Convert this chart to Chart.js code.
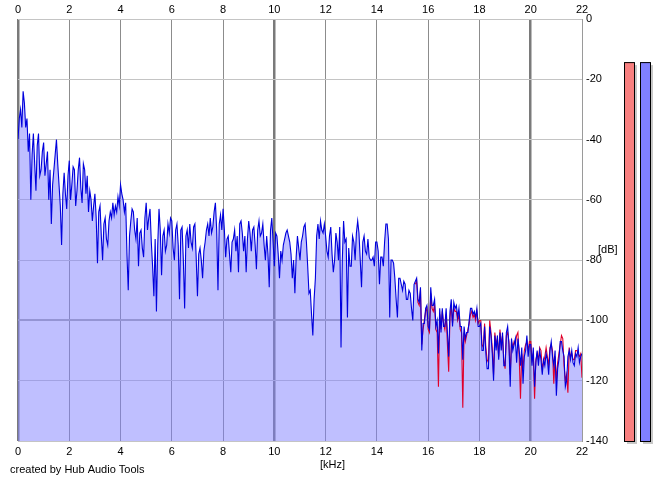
<!DOCTYPE html>
<html>
<head>
<meta charset="utf-8">
<script src="https://cdn.jsdelivr.net/npm/chart.js@4"></script>
<style>
  html, body { margin: 0; padding: 0; background: #fff; }
  #wrap { width: 664px; height: 482px; position: relative; }
</style>
</head>
<body>
<div id="wrap"><canvas id="spectrum"></canvas></div>
<script>
// frequency grid of the series (kHz)
const blueStartKHz = 0;
const redStartKHz = 15.5;
const stepKHz = 0.05;

// spectrum levels in dB, one value every 0.05 kHz (one row per kHz)
const blueLevels = [
  -40, -33, -30, -36, -24, -28, -36, -33, -44, -38, -60, -45, -38, -48, -57, -42, -38, -52, -50, -44,
  -41, -52, -48, -44, -60, -50, -68, -55, -50, -45, -40, -48, -55, -62, -75, -58, -51, -58, -63, -52,
  -47, -60, -55, -49, -50, -62, -57, -50, -46, -56, -61, -48, -50, -58, -52, -64, -57, -60, -67, -62,
  -58, -66, -81, -64, -62, -72, -80, -68, -66, -73, -75, -67, -64, -66, -61, -65, -62, -64, -59, -62,
  -55, -58, -60, -64, -61, -78, -90, -72, -67, -63, -64, -70, -73, -66, -82, -71, -70, -76, -79, -66,
  -61, -70, -66, -63, -74, -82, -92, -73, -97, -75, -63, -70, -85, -72, -70, -77, -75, -68, -71, -66,
  -67, -76, -80, -70, -68, -75, -93, -70, -69, -80, -96, -72, -70, -76, -68, -74, -76, -69, -68, -79,
  -92, -78, -76, -80, -86, -77, -74, -70, -68, -72, -66, -71, -69, -64, -61, -70, -90, -68, -65, -70,
  -63, -70, -79, -73, -72, -78, -84, -74, -73, -70, -77, -72, -84, -68, -67, -71, -77, -72, -84, -73,
  -67, -71, -77, -70, -69, -75, -83, -70, -67, -72, -71, -68, -75, -80, -72, -78, -89, -70, -66, -74,
  -82, -71, -72, -78, -86, -77, -80, -75, -73, -71, -70, -72, -74, -78, -86, -80, -91, -79, -72, -76,
  -80, -74, -72, -69, -68, -74, -82, -91, -90, -98, -105, -93, -86, -72, -68, -73, -67, -70, -71, -68,
  -72, -77, -79, -72, -69, -78, -84, -80, -71, -74, -80, -69, -109, -80, -67, -74, -73, -99, -76, -82,
  -82, -72, -74, -80, -71, -67, -71, -80, -89, -74, -72, -77, -78, -73, -79, -80, -80, -79, -82, -74,
  -74, -77, -88, -79, -79, -82, -74, -68, -68, -73, -99, -80, -80, -81, -86, -93, -99, -86, -86, -88,
  -90, -87, -88, -93, -93, -90, -91, -96, -100, -88, -87, -86, -93, -94, -89, -110, -101, -101, -96, -95,
  -102, -103, -89, -95, -95, -93, -102, -100, -111, -96, -104, -96, -102, -102, -96, -104, -112, -97, -93, -102,
  -94, -96, -95, -99, -96, -102, -102, -113, -102, -106, -104, -104, -100, -96, -96, -98, -97, -99, -96, -102,
  -102, -101, -110, -110, -102, -111, -116, -116, -102, -105, -111, -120, -105, -110, -105, -113, -104, -110, -104, -115,
  -115, -104, -102, -108, -122, -106, -110, -108, -106, -114, -106, -110, -115, -109, -121, -112, -110, -105, -112, -108,
  -108, -115, -109, -122, -114, -110, -115, -110, -113, -118, -113, -115, -111, -113, -118, -110, -107, -112, -115, -110,
  -125, -116, -113, -107, -107, -110, -112, -122, -120, -112, -110, -113, -110, -114, -115, -111, -112, -109, -114, -112,
  -111
];

const redLevels = [
  -88, -87, -94, -95, -90, -108, -103, -100, -97, -96,
  -103, -104, -91, -96, -97, -95, -103, -104, -122, -98, -103, -97, -101, -103, -98, -108, -117, -99, -95, -101,
  -96, -97, -97, -100, -98, -103, -104, -129, -104, -107, -105, -103, -101, -98, -97, -99, -98, -100, -97, -101,
  -100, -100, -108, -109, -101, -109, -113, -114, -100, -104, -109, -118, -104, -108, -106, -112, -103, -108, -105, -113,
  -116, -105, -104, -107, -118, -107, -109, -107, -108, -105, -104, -112, -126, -111, -116, -110, -108, -107, -110, -107,
  -107, -113, -111, -126, -113, -111, -113, -109, -110, -116, -114, -112, -109, -112, -115, -109, -108, -110, -121, -112,
  -120, -114, -111, -108, -105, -106, -115, -120, -118, -124, -109, -112, -111, -113, -113, -110, -110, -111, -112, -111,
  -119
];

// level meters on the right (dB)
const meterLevels = [-14.3, -14.3];

const freqTicks = [0, 2, 4, 6, 8, 10, 12, 14, 16, 18, 20, 22];
const dbTicks = [0, -20, -40, -60, -80, -100, -120, -140];

function toPoints(start, values) {
  return values.map((v, i) => ({ x: +(start + i * stepKHz).toFixed(2), y: v }));
}

const FONT = 'Liberation Sans';

const extras = {
  id: 'extras',
  afterDraw(chart) {
    const ctx = chart.ctx;
    const y = chart.scales.y;
    const bottom = y.getPixelForValue(-140);
    const meters = [
      { x: 624, fill: '#f88080' },
      { x: 640, fill: '#8080ff' }
    ];
    ctx.save();
    meters.forEach((m, i) => {
      const top = y.getPixelForValue(meterLevels[i]);
      ctx.fillStyle = '#c8c8c8';
      ctx.fillRect(m.x + 3, top + 3, 10, bottom - top);
      ctx.fillStyle = m.fill;
      ctx.fillRect(m.x, top, 10, bottom - top);
      ctx.strokeStyle = '#000';
      ctx.lineWidth = 1;
      ctx.strokeRect(m.x + 0.5, top + 0.5, 10, bottom - top);
    });
    ctx.fillStyle = '#000';
    ctx.font = '11px "' + FONT + '"';
    ctx.textBaseline = 'middle';
    ctx.textAlign = 'left';
    ctx.fillText('[dB]', 598, 250);
    ctx.fillText('[kHz]', 320, 465);
    ctx.fillText('created by Hub Audio Tools', 10, 470);
    ctx.restore();
  }
};

new Chart(document.getElementById('spectrum'), {
  type: 'line',
  data: {
    datasets: [
      {
        label: 'blue',
        data: toPoints(blueStartKHz, blueLevels),
        borderColor: '#0000dd',
        borderWidth: 1.1,
        backgroundColor: 'rgba(128,128,255,0.5)',
        fill: 'start',
        pointRadius: 0,
        tension: 0
      },
      {
        label: 'red',
        data: toPoints(redStartKHz, redLevels),
        borderColor: '#e0002a',
        borderWidth: 1.1,
        fill: false,
        pointRadius: 0,
        tension: 0
      }
    ]
  },
  options: {
    responsive: true,
    maintainAspectRatio: false,
    animation: false,
    layout: { padding: { left: 18, right: 0, top: 0, bottom: 0 } },
    plugins: {
      legend: { display: false },
      tooltip: { enabled: false },
      filler: { drawTime: 'beforeDatasetsDraw' }
    },
    scales: {
      x: {
        type: 'linear',
        position: 'bottom',
        min: 0,
        max: 22,
        afterFit: s => { s.height = 41; },
        afterBuildTicks: s => { s.ticks = freqTicks.map(v => ({ value: v })); },
        ticks: { font: { family: FONT, size: 11 }, color: '#000', padding: 4, autoSkip: false, maxRotation: 0 },
        grid: {
          drawTicks: false,
          color: c => (c.tick && c.tick.value % 10 === 0) ? '#7a7a7a' : '#8c8c8c',
          lineWidth: c => (c.tick && c.tick.value % 10 === 0) ? 2.5 : 1
        },
        border: { display: false }
      },
      x2: {
        type: 'linear',
        position: 'top',
        min: 0,
        max: 22,
        afterFit: s => { s.height = 19; },
        afterBuildTicks: s => { s.ticks = freqTicks.map(v => ({ value: v })); },
        ticks: { font: { family: FONT, size: 11 }, color: '#000', padding: 2, autoSkip: false, maxRotation: 0 },
        grid: { display: false, drawTicks: false },
        border: { display: false }
      },
      y: {
        position: 'right',
        min: -140,
        max: 0,
        afterFit: s => { s.width = 82; },
        afterBuildTicks: s => { s.ticks = dbTicks.map(v => ({ value: v })); },
        ticks: { font: { family: FONT, size: 11 }, color: '#000', padding: 4 },
        grid: {
          drawTicks: false,
          color: c => (c.tick && c.tick.value === -100) ? '#a8a8a8' : '#c4c4c4',
          lineWidth: c => (c.tick && c.tick.value === -100) ? 2 : 1
        },
        border: { display: true, color: '#9a9a9a', width: 1 }
      }
    }
  },
  plugins: [extras]
});
</script>
</body>
</html>
